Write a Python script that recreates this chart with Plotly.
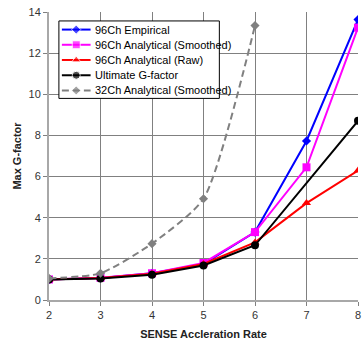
import plotly.graph_objects as go

rates = [2, 3, 4, 5, 6, 7, 8]
emp96 = [1.0, 1.07, 1.3, 1.75, 3.3, 7.73, 13.63]
smooth96 = [1.0, 1.08, 1.3, 1.8, 3.3, 6.45, 13.24]
raw96 = [1.0, 1.07, 1.28, 1.75, 2.8, 4.71, 6.29]
ultimate = [1.0, 1.05, 1.23, 1.68, 2.66, None, 8.71]
smooth32 = [1.05, 1.3, 2.74, 4.92, 13.34, None, None]

names = ["96Ch Empirical", "96Ch Analytical (Smoothed)", "96Ch Analytical (Raw)",
         "Ultimate G-factor", "32Ch Analytical (Smoothed)"]
colors = ["#0000ff", "#ff00ff", "#ff0000", "#000000", "#808080"]
symbols = ["diamond", "square", "triangle-up", "circle", "diamond"]
msizes = [7, 8, 8, 8, 7]
dashes = ["solid", "solid", "solid", "solid", "7px,4px"]
series = [emp96, smooth96, raw96, ultimate, smooth32]

FONT = "Liberation Sans, Arial, sans-serif"

fig = go.Figure()
for i, ys in enumerate(series):
    line = dict(color=colors[i], width=2, dash=dashes[i])
    if i == 4:
        line.update(shape="spline", smoothing=0.6)
    fig.add_trace(go.Scatter(x=rates, y=ys, name=names[i], mode="lines+markers",
                             connectgaps=True, showlegend=False,
                             line=line,
                             marker=dict(symbol=symbols[i], size=msizes[i], color=colors[i])))

# Legend drawn in a pixel-unit overlay (plot area is 312 x 290 px)
bx0, bx1, by0, by1 = 10, 172, 9, 87
fig.add_trace(go.Scatter(x=[bx0, bx1, bx1, bx0, bx0], y=[by0, by0, by1, by1, by0],
                         xaxis="x2", yaxis="y2", mode="lines", fill="toself",
                         fillcolor="white", line=dict(color="black", width=1),
                         hoverinfo="skip", showlegend=False))
entry_y = [17.7, 33, 48.3, 63.7, 79]
for i, name in enumerate(names):
    fig.add_trace(go.Scatter(x=[13, 27.5, 42], y=[entry_y[i]] * 3, xaxis="x2", yaxis="y2",
                             mode="lines+markers",
                             line=dict(color=colors[i], width=2, dash=dashes[i]),
                             marker=dict(symbol=symbols[i], size=[0, msizes[i], 0], color=colors[i]),
                             hoverinfo="skip", showlegend=False))
    fig.add_annotation(x=44, y=entry_y[i], xref="x2", yref="y2", text=name, showarrow=False,
                       xanchor="left", yanchor="middle",
                       font=dict(family=FONT, size=11, color="black"))

axis_common = dict(showgrid=True, gridcolor="#808080", gridwidth=1, zeroline=False,
                   showline=True, linecolor="#a8a8a8", linewidth=2,
                   ticks="outside", ticklen=4, tickcolor="#808080",
                   ticklabeloverflow="allow",
                   tickfont=dict(family=FONT, size=11, color="#333333"))

fig.update_layout(
    width=363, height=341,
    margin=dict(l=49, r=2, t=12, b=39),
    paper_bgcolor="white", plot_bgcolor="white",
    font=dict(family=FONT, size=11, color="#000000"),
    xaxis=dict(range=[2, 8], dtick=1,
               title=dict(text="<b>SENSE Accleration Rate</b>", font=dict(size=11, color="#222222"), standoff=10),
               **axis_common),
    yaxis=dict(range=[0, 14], dtick=2,
               title=dict(text="<b>Max G-factor</b>", font=dict(size=11, color="#222222"), standoff=5),
               **axis_common),
    xaxis2=dict(overlaying="x", range=[0, 312], visible=False, fixedrange=True),
    yaxis2=dict(overlaying="y", range=[290, 0], visible=False, fixedrange=True),
    showlegend=False,
)

fig.write_html("out.html", config={"displayModeBar": False},
               post_script="document.body.style.margin='0';"
                           "document.documentElement.style.overflow='hidden';")
